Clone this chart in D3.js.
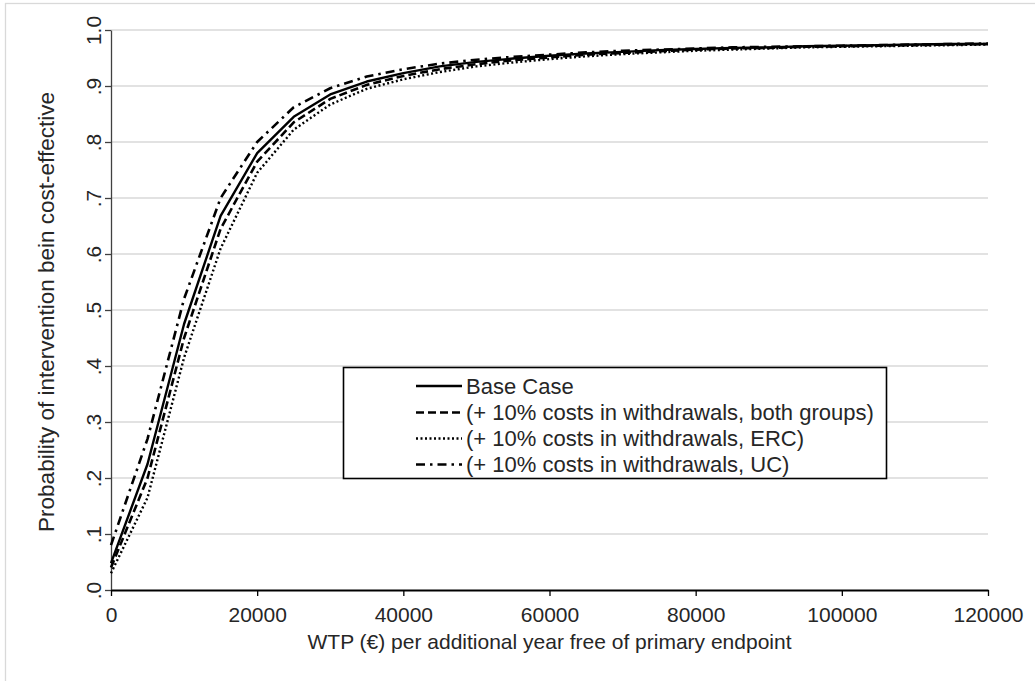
<!DOCTYPE html>
<html>
<head>
<meta charset="utf-8">
<script src="https://cdn.jsdelivr.net/npm/d3@7"></script>
<style>
  html, body { margin: 0; padding: 0; background: #fff; }
  svg { display: block; font-family: "Liberation Sans", Arial, sans-serif; }
</style>
</head>
<body>
<svg id="chart" width="1035" height="681"></svg>
<script>
// Willingness-to-pay thresholds (EUR)
const wtp = [0, 5000, 10000, 15000, 20000, 25000, 30000, 35000, 40000, 45000, 50000, 55000,
  60000, 65000, 70000, 75000, 80000, 85000, 90000, 95000, 100000, 105000, 110000, 115000, 120000];

// Probability that the intervention is cost-effective, per scenario
const baseCase = [0.048, 0.225, 0.475, 0.668, 0.780, 0.845, 0.885, 0.908, 0.923, 0.935, 0.943, 0.949,
  0.954, 0.958, 0.961, 0.964, 0.966, 0.968, 0.969, 0.971, 0.972, 0.973, 0.974, 0.975, 0.975];
const bothGroups = [0.040, 0.200, 0.450, 0.645, 0.765, 0.835, 0.877, 0.902, 0.918, 0.930, 0.939, 0.946,
  0.951, 0.956, 0.959, 0.962, 0.965, 0.967, 0.968, 0.970, 0.971, 0.972, 0.973, 0.974, 0.975];
const ercOnly = [0.030, 0.165, 0.415, 0.610, 0.745, 0.822, 0.867, 0.895, 0.912, 0.925, 0.935, 0.942,
  0.948, 0.953, 0.957, 0.960, 0.963, 0.965, 0.967, 0.969, 0.970, 0.971, 0.972, 0.973, 0.974];
const ucOnly = [0.080, 0.270, 0.520, 0.700, 0.800, 0.862, 0.896, 0.917, 0.930, 0.940, 0.947, 0.952,
  0.956, 0.960, 0.963, 0.965, 0.967, 0.969, 0.970, 0.971, 0.972, 0.973, 0.974, 0.975, 0.976];

const seriesNames = ["Base Case", "(+ 10% costs in withdrawals, both groups)",
  "(+ 10% costs in withdrawals, ERC)", "(+ 10% costs in withdrawals, UC)"];

const xTicks = [0, 20000, 40000, 60000, 80000, 100000, 120000];
const yTicks = [0, 0.1, 0.2, 0.3, 0.4, 0.5, 0.6, 0.7, 0.8, 0.9, 1.0];
const yTickLabels = [".0", ".1", ".2", ".3", ".4", ".5", ".6", ".7", ".8", ".9", "1.0"];

const xTitle = "WTP (\u20ac) per additional  year free of primary endpoint";
const yTitle = "Probability of intervention bein cost-effective";

// Line styles for each scenario
const styles = [
  { dash: null, width: 2.4 },
  { dash: "8,4", width: 2.6 },
  { dash: "2,2.5", width: 2.4 },
  { dash: "9,5,2.5,5", width: 2.6 }
];

const FONT = 21;
const TEXT = "#262626";

const svg = d3.select("#chart");
const margin = { left: 111, right: 1035 - 988, top: 30, bottom: 681 - 590 };
const W = 1035, H = 681;

// Frame around the whole figure
svg.append("rect")
  .attr("x", 5.5).attr("y", 3.5)
  .attr("width", W + 20).attr("height", H + 20)
  .attr("fill", "none").attr("stroke", "#d9d9d9").attr("stroke-width", 1.3);

const x = d3.scaleLinear().domain([0, 120000]).range([margin.left, W - margin.right]);
const y = d3.scaleLinear().domain([0, 1]).range([H - margin.bottom, margin.top]);

// Horizontal gridlines
svg.append("g")
  .selectAll("line")
  .data(yTicks.filter(d => d > 0))
  .join("line")
  .attr("x1", x(0)).attr("x2", x(120000))
  .attr("y1", d => y(d)).attr("y2", d => y(d))
  .attr("stroke", "#d9d9d9").attr("stroke-width", 1.6);

// Y axis with rotated tick labels
const yAxis = svg.append("g")
  .attr("transform", `translate(${x(0)},0)`)
  .call(d3.axisLeft(y).tickValues(yTicks).tickSize(6).tickSizeOuter(0)
    .tickFormat((d, i) => yTickLabels[i]));
yAxis.select(".domain").attr("stroke", "#404040").attr("stroke-width", 1.3);
yAxis.selectAll(".tick line").attr("stroke", "#404040").attr("stroke-width", 1.3);
yAxis.selectAll(".tick text")
  .attr("x", 0).attr("dy", null)
  .attr("transform", "translate(-18,0) rotate(-90)")
  .attr("text-anchor", "middle")
  .attr("dominant-baseline", "central")
  .attr("font-size", FONT)
  .attr("fill", TEXT)
  .attr("font-family", "Liberation Sans, Arial, sans-serif");

// X axis
const xAxis = svg.append("g")
  .attr("transform", `translate(0,${y(0)})`)
  .call(d3.axisBottom(x).tickValues(xTicks).tickSize(6).tickSizeOuter(0)
    .tickFormat(d3.format("d")));
xAxis.select(".domain").attr("stroke", "#000").attr("stroke-width", 2);
xAxis.selectAll(".tick line").attr("stroke", "#000").attr("stroke-width", 1.3);
xAxis.selectAll(".tick text")
  .attr("y", 17)
  .attr("font-size", FONT)
  .attr("fill", TEXT)
  .attr("font-family", "Liberation Sans, Arial, sans-serif");

// Axis titles
svg.append("text")
  .attr("x", (x(0) + x(120000)) / 2)
  .attr("y", 649)
  .attr("text-anchor", "middle")
  .attr("font-size", FONT)
  .attr("fill", TEXT)
  .text(xTitle);

svg.append("text")
  .attr("transform", `translate(54,${y(0.5) + 2}) rotate(-90)`)
  .attr("text-anchor", "middle")
  .attr("font-size", 22.5)
  .attr("fill", TEXT)
  .text(yTitle);

// Curves
const allSeries = [baseCase, bothGroups, ercOnly, ucOnly];
const line = d3.line()
  .x((d, i) => x(wtp[i]))
  .y(d => y(d));

svg.append("g")
  .selectAll("path")
  .data(allSeries)
  .join("path")
  .attr("d", d => line(d))
  .attr("fill", "none")
  .attr("stroke", "#000")
  .attr("stroke-width", (d, i) => styles[i].width)
  .attr("stroke-dasharray", (d, i) => styles[i].dash)
  .attr("stroke-linejoin", "round");

// Legend
const legend = svg.append("g");
legend.append("rect")
  .attr("x", 343.5).attr("y", 367.5)
  .attr("width", 543).attr("height", 111)
  .attr("fill", "#fff").attr("stroke", "#000").attr("stroke-width", 1.6);

const rowY = [386, 412.5, 438.5, 464.5];
const items = legend.selectAll("g.item")
  .data(seriesNames)
  .join("g")
  .attr("class", "item")
  .attr("transform", (d, i) => `translate(0,${rowY[i]})`);

items.append("line")
  .attr("x1", 416).attr("x2", 462)
  .attr("y1", 0).attr("y2", 0)
  .attr("stroke", "#000")
  .attr("stroke-width", (d, i) => styles[i].width)
  .attr("stroke-dasharray", (d, i) => styles[i].dash);

items.append("text")
  .attr("x", 466)
  .attr("y", 0)
  .attr("dominant-baseline", "central")
  .attr("font-size", 22)
  .attr("fill", TEXT)
  .text(d => d);
</script>
</body>
</html>
